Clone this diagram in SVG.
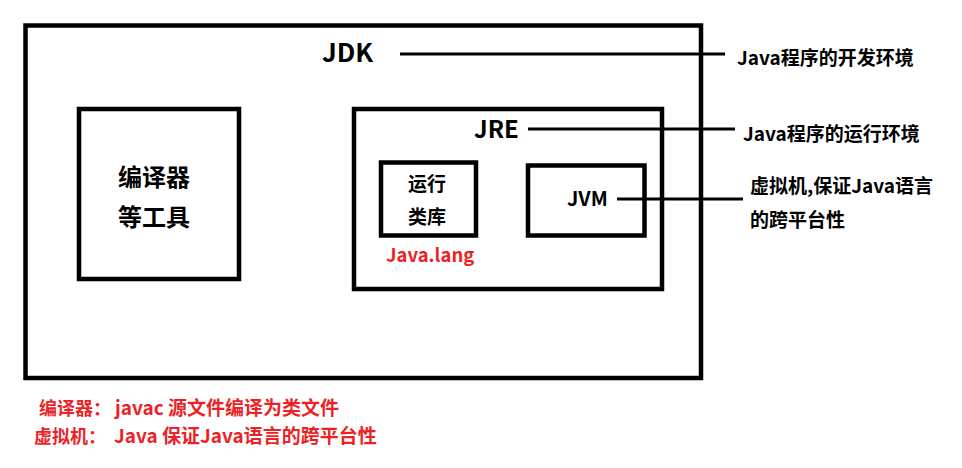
<svg xmlns="http://www.w3.org/2000/svg" width="962" height="468" viewBox="0 0 962 468">
<style>
.box{fill:none;stroke:#000;stroke-width:4.5}
.ln{stroke:#000;stroke-width:3;fill:none}
text{font-family:"Noto Sans CJK SC","Liberation Sans",sans-serif;font-weight:bold;fill:#000}
.red{fill:#ee1f26}
.lbl{font-size:19px}
.pre{font-size:18px}
</style>
<rect width="962" height="468" fill="#fff"/>
<g id="jdk">
<rect class="box" x="25.5" y="25.5" width="675.5" height="352.5"/>
<text x="322" y="62" font-size="26">JDK</text>
</g>
<g id="compiler">
<rect class="box" x="79" y="109" width="160" height="170"/>
<text x="118" y="186" font-size="24">编译器</text>
<text x="118" y="226" font-size="24">等工具</text>
</g>
<g id="jre">
<rect class="box" x="354" y="109" width="308" height="180"/>
<text x="474" y="138" font-size="24">JRE</text>
</g>
<g id="runtime-lib">
<rect class="box" x="381" y="162.5" width="95" height="73"/>
<text x="408" y="191" font-size="19">运行</text>
<text x="408" y="224" font-size="19">类库</text>
<text class="red" x="386" y="262" font-size="18.5">Java.lang</text>
</g>
<g id="jvm">
<rect class="box" x="528" y="165.5" width="116.5" height="70"/>
<text x="567" y="206" font-size="20">JVM</text>
</g>
<g id="connectors">
<line class="ln" x1="400" y1="54" x2="725" y2="54"/>
<line class="ln" x1="528" y1="129" x2="735" y2="129"/>
<line class="ln" x1="617" y1="199" x2="743" y2="199"/>
</g>
<g id="labels">
<text class="lbl" x="737" y="65">Java程序的开发环境</text>
<text class="lbl" x="743" y="141">Java程序的运行环境</text>
<text class="lbl" x="750" y="193">虚拟机,保证Java语言</text>
<text class="lbl" x="750" y="227">的跨平台性</text>
</g>
<g id="notes">
<text class="red" font-size="19" y="415"><tspan class="pre" x="39">编译器：</tspan><tspan x="115">javac 源文件编译为类文件</tspan></text>
<text class="red" font-size="19" y="443"><tspan class="pre" x="34">虚拟机：</tspan><tspan x="114">Java 保证Java语言的跨平台性</tspan></text>
</g>
</svg>
